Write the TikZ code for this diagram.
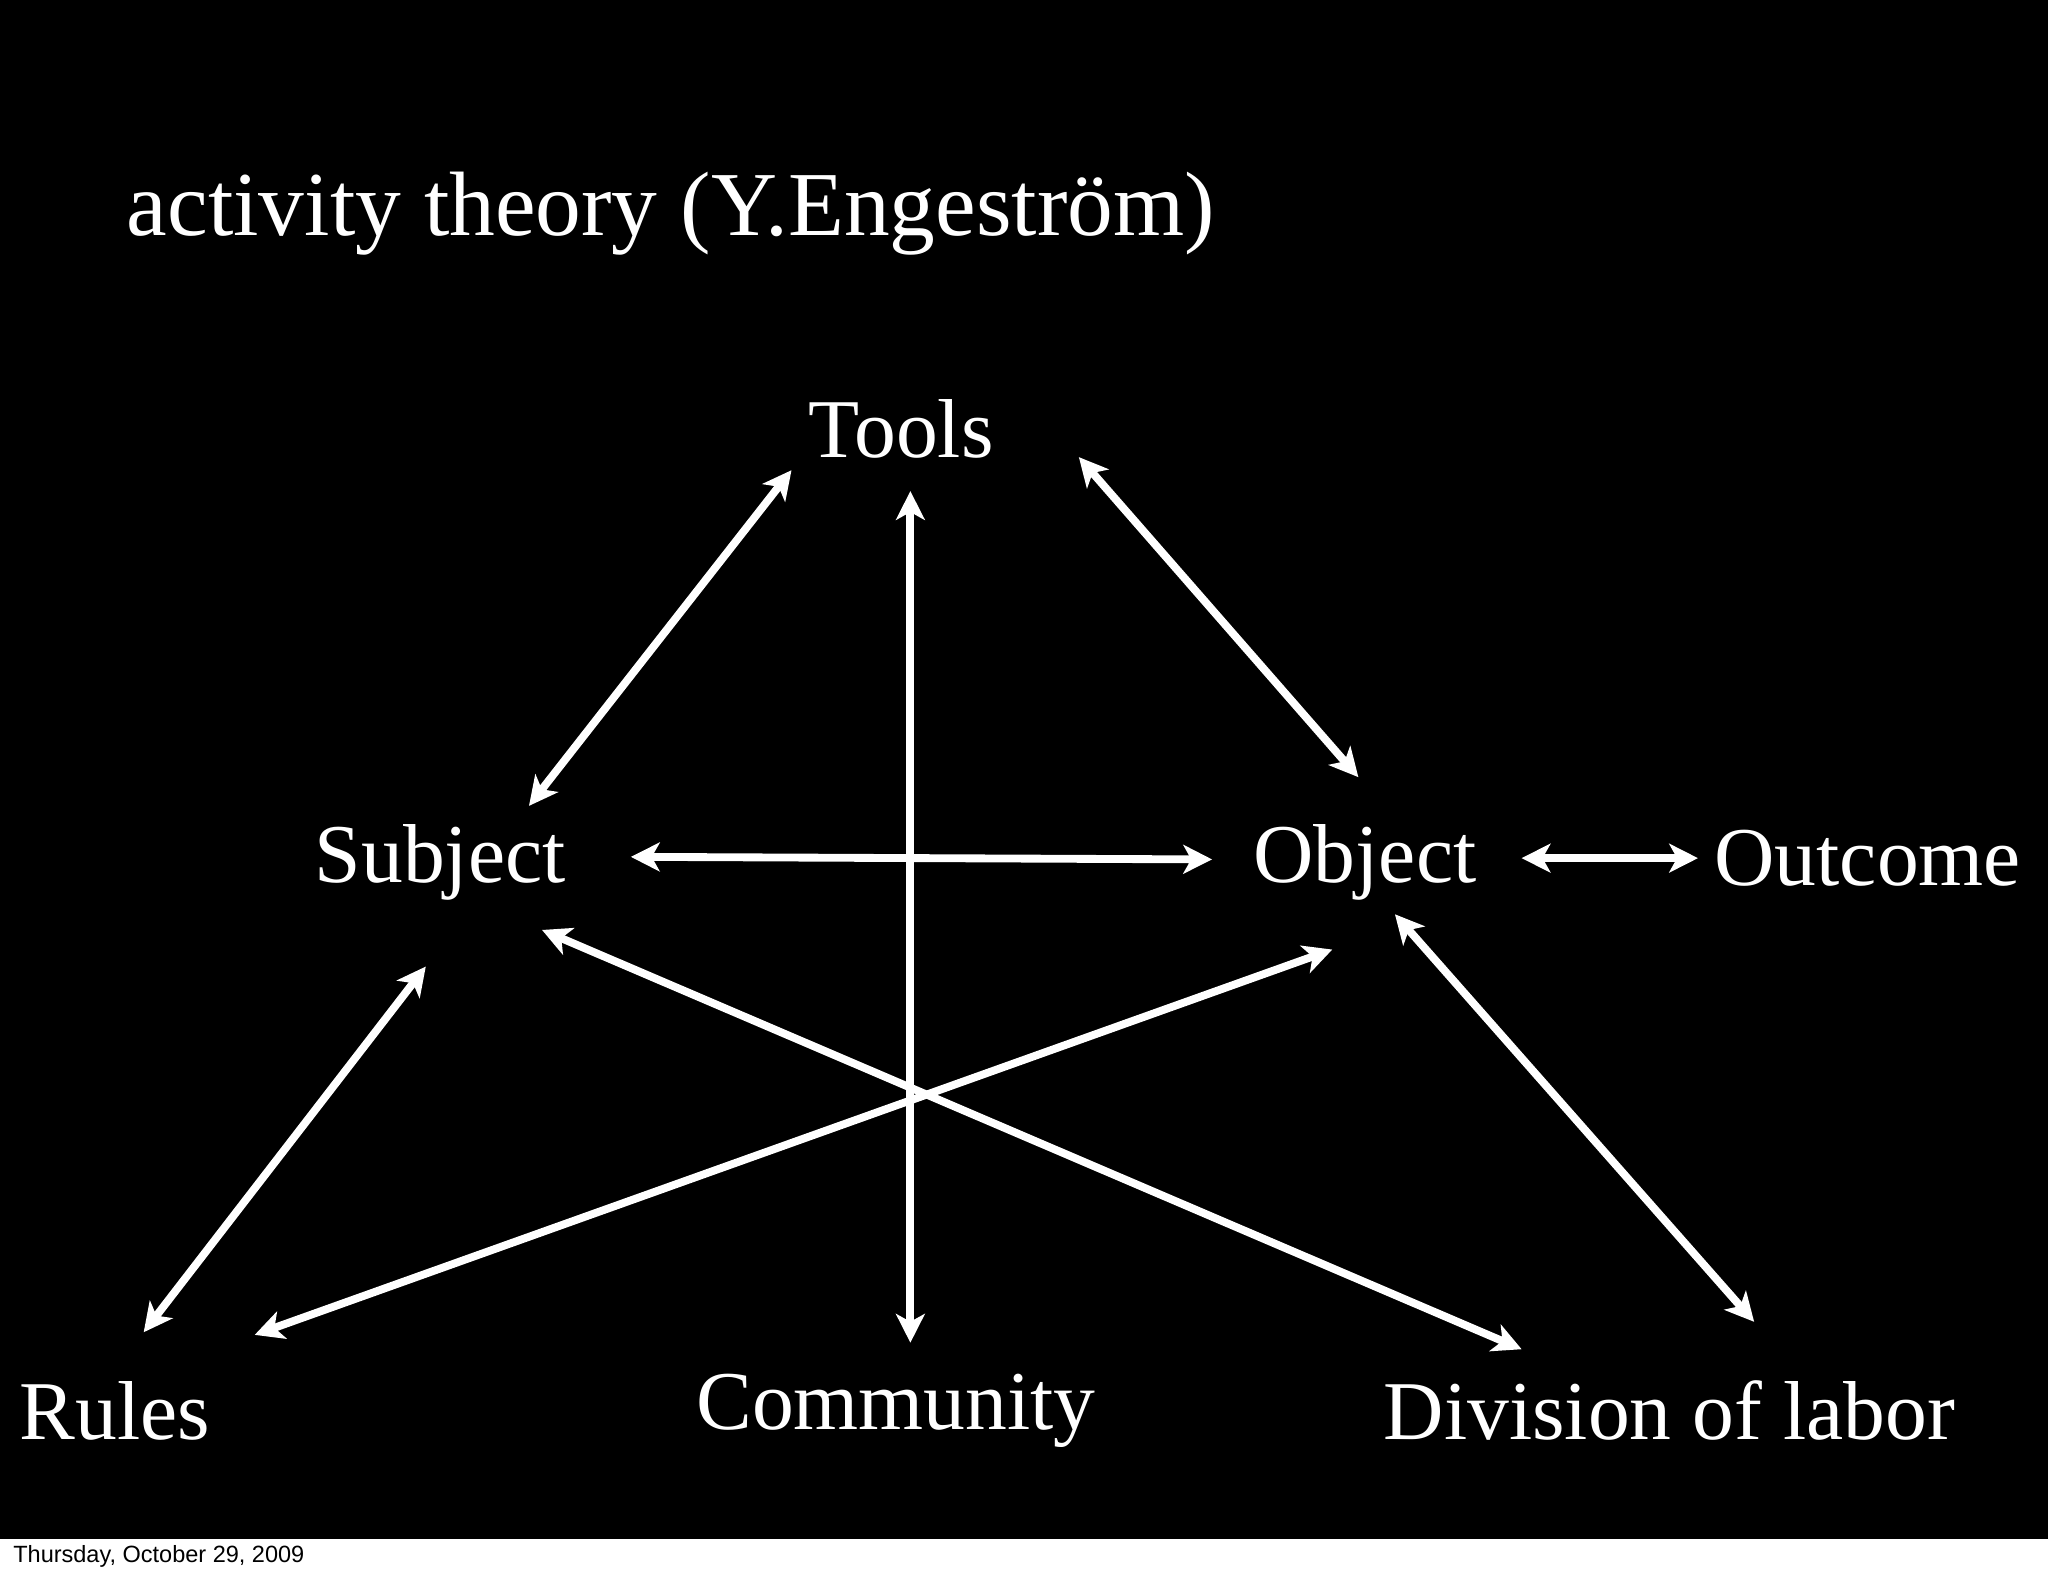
\documentclass[tikz,border=0pt]{standalone}
\usepackage{fontspec}
\setmainfont{Liberation Serif}
\newfontfamily\footfont{Liberation Sans}
\usetikzlibrary{arrows.meta}
\begin{document}
\begin{tikzpicture}[x=1pt,y=-1pt,
  lab/.style={text=white,font=\fontsize{64}{70}\selectfont,inner sep=0pt},
  arr/.style={white,line width=6pt,{Stealth[length=22pt,width=22pt,inset=6pt]}-{Stealth[length=22pt,width=22pt,inset=6pt]}}]
\useasboundingbox (0,0) rectangle (1568,1207);
\fill[white] (0,0) rectangle (1568,1207);
\fill[black] (0,0) rectangle (1568,1178);
\node[lab,anchor=base west,font=\fontsize{70}{76}\selectfont] (title) at (97,180) {activity theory (Y.Engeström)};
\node[lab] (tools) at (690,328) {Tools};
\node[lab] (subj) at (337,660) {Subject};
\node[lab] (obj) at (1045,660) {Object};
\node[lab] (out) at (1430,657) {Outcome};
\node[lab] (rules) at (88,1080) {Rules};
\node[lab] (comm) at (686,1080) {Community};
\node[lab] (div) at (1278,1080) {Division of labor};
\node[anchor=west,inner sep=0pt,font=\footfont\fontsize{18}{20}\selectfont] (date) at (10,1192) {Thursday, October 29, 2009};
\coordinate (a1) at (606,360); \coordinate (a2) at (405,617);
\coordinate (b1) at (697,376); \coordinate (b2) at (697,1028);
\coordinate (c1) at (826,350); \coordinate (c2) at (1040,595);
\coordinate (d1) at (483,656); \coordinate (d2) at (928,658);
\coordinate (e1) at (1165,657); \coordinate (e2) at (1300,657);
\coordinate (f1) at (415,712); \coordinate (f2) at (1165,1033);
\coordinate (g1) at (1020,727); \coordinate (g2) at (195,1022);
\coordinate (h1) at (326,740); \coordinate (h2) at (110,1020);
\coordinate (i1) at (1068,700); \coordinate (i2) at (1343,1012);
\foreach \p in {a,b,c,d,e,f,g,h,i} \draw[arr] (\p1) -- (\p2);
\end{tikzpicture}
\end{document}
